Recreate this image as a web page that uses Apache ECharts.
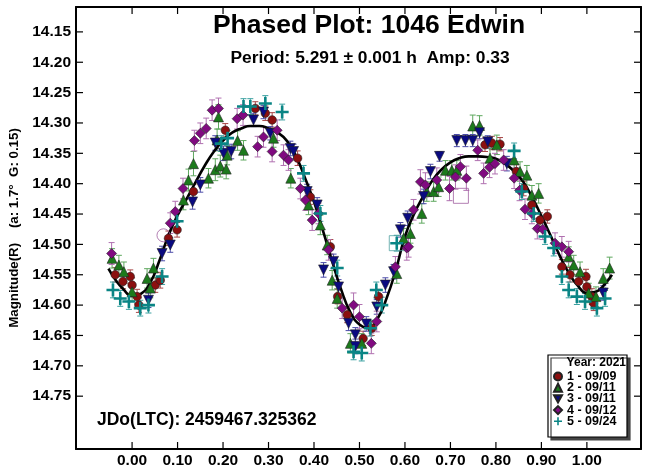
<!DOCTYPE html>
<html>
<head>
<meta charset="utf-8">
<title>Phased Plot: 1046 Edwin</title>
<script src="https://cdn.jsdelivr.net/npm/echarts@6/dist/echarts.min.js"></script>
<style>
  html, body { margin: 0; padding: 0; background: #fff; }
  #chart { width: 645px; height: 469px; }
</style>
</head>
<body>
<div id="chart"></div>
<script>
// tick labels
const xTicks = [0, 0.1, 0.2, 0.3, 0.4, 0.5, 0.6, 0.7, 0.8, 0.9, 1.0];
const yTicks = [14.15, 14.20, 14.25, 14.30, 14.35, 14.40, 14.45, 14.50, 14.55, 14.60, 14.65, 14.70, 14.75];

// sessions: [phase, magnitude, error]
const sess1 = [
  [-0.037, 14.550, 0.012], [-0.020, 14.561, 0.012], [-0.004, 14.553, 0.011], [0.000, 14.567, 0.012],
  [0.011, 14.586, 0.012], [0.015, 14.600, 0.012], [0.051, 14.567, 0.012], [0.062, 14.559, 0.013],
  [0.080, 14.490, 0.012], [0.099, 14.476, 0.012], [0.135, 14.413, 0.012], [0.205, 14.312, 0.011],
  [0.271, 14.276, 0.011], [0.293, 14.284, 0.012], [0.308, 14.295, 0.012], [0.364, 14.358, 0.012],
  [0.392, 14.422, 0.012], [0.436, 14.504, 0.012], [0.452, 14.586, 0.012], [0.473, 14.616, 0.013],
  [0.508, 14.655, 0.012], [0.527, 14.638, 0.012], [0.542, 14.586, 0.012], [0.776, 14.336, 0.011],
  [0.791, 14.333, 0.011], [0.809, 14.335, 0.011], [0.845, 14.380, 0.012], [0.861, 14.408, 0.012],
  [0.879, 14.435, 0.012], [0.897, 14.460, 0.012], [0.913, 14.454, 0.011], [0.945, 14.537, 0.012],
  [0.963, 14.550, 0.012], [0.982, 14.561, 0.012], [0.998, 14.553, 0.012], [1.000, 14.570, 0.012],
  [1.011, 14.586, 0.013], [1.015, 14.597, 0.012]
];
const sess2 = [
  [-0.044, 14.523, 0.016], [-0.029, 14.534, 0.016], [-0.018, 14.545, 0.016], [0.000, 14.578, 0.015],
  [0.033, 14.556, 0.016], [0.040, 14.572, 0.016], [0.047, 14.539, 0.016], [0.113, 14.427, 0.016],
  [0.124, 14.394, 0.018], [0.135, 14.367, 0.020], [0.168, 14.391, 0.016], [0.183, 14.377, 0.018],
  [0.187, 14.328, 0.018], [0.190, 14.290, 0.020], [0.194, 14.371, 0.018], [0.207, 14.376, 0.016],
  [0.209, 14.353, 0.016], [0.232, 14.329, 0.016], [0.245, 14.345, 0.016], [0.311, 14.325, 0.015],
  [0.349, 14.391, 0.016], [0.388, 14.435, 0.016], [0.414, 14.468, 0.016], [0.429, 14.501, 0.016],
  [0.440, 14.559, 0.016], [0.451, 14.589, 0.016], [0.480, 14.663, 0.016], [0.505, 14.663, 0.016],
  [0.582, 14.548, 0.016], [0.597, 14.490, 0.016], [0.612, 14.482, 0.016], [0.637, 14.449, 0.016],
  [0.648, 14.413, 0.016], [0.663, 14.413, 0.016], [0.674, 14.405, 0.016], [0.689, 14.378, 0.016],
  [0.703, 14.378, 0.016], [0.714, 14.378, 0.016], [0.749, 14.305, 0.018], [0.764, 14.304, 0.016],
  [0.787, 14.358, 0.016], [0.802, 14.336, 0.016], [0.840, 14.361, 0.016], [0.853, 14.380, 0.016],
  [0.868, 14.386, 0.016], [0.879, 14.419, 0.016], [0.894, 14.416, 0.016], [0.960, 14.520, 0.016],
  [0.971, 14.534, 0.016], [0.985, 14.545, 0.016], [1.004, 14.580, 0.016], [1.020, 14.586, 0.016],
  [1.036, 14.556, 0.016], [1.050, 14.539, 0.018]
];
const sess3 = [
  [0.036, 14.592, 0.012], [0.066, 14.515, 0.012], [0.084, 14.501, 0.012], [0.133, 14.430, 0.012],
  [0.150, 14.402, 0.012], [0.183, 14.333, 0.012], [0.201, 14.350, 0.012], [0.218, 14.347, 0.012],
  [0.267, 14.295, 0.011], [0.289, 14.282, 0.011], [0.304, 14.317, 0.011], [0.348, 14.342, 0.012],
  [0.355, 14.347, 0.012], [0.385, 14.413, 0.012], [0.407, 14.435, 0.012], [0.421, 14.542, 0.012],
  [0.443, 14.528, 0.012], [0.454, 14.570, 0.012], [0.476, 14.630, 0.012], [0.491, 14.649, 0.012],
  [0.491, 14.668, 0.012], [0.515, 14.631, 0.012], [0.538, 14.603, 0.012], [0.557, 14.567, 0.012],
  [0.575, 14.545, 0.012], [0.590, 14.476, 0.012], [0.606, 14.457, 0.012], [0.641, 14.421, 0.012],
  [0.656, 14.380, 0.012], [0.676, 14.355, 0.008], [0.714, 14.329, 0.010], [0.733, 14.329, 0.010],
  [0.749, 14.329, 0.010], [0.764, 14.316, 0.010], [0.782, 14.331, 0.010], [0.824, 14.367, 0.012],
  [1.036, 14.580, 0.012]
];
const sess4 = [
  [-0.045, 14.515, 0.018], [0.084, 14.465, 0.017], [0.095, 14.446, 0.017], [0.112, 14.408, 0.017],
  [0.137, 14.329, 0.017], [0.150, 14.317, 0.017], [0.163, 14.309, 0.017], [0.176, 14.279, 0.017],
  [0.190, 14.276, 0.017], [0.231, 14.293, 0.017], [0.244, 14.287, 0.017], [0.276, 14.339, 0.017],
  [0.289, 14.323, 0.017], [0.308, 14.347, 0.017], [0.319, 14.312, 0.017], [0.333, 14.353, 0.017],
  [0.344, 14.361, 0.017], [0.370, 14.408, 0.017], [0.381, 14.427, 0.017], [0.396, 14.460, 0.017],
  [0.410, 14.449, 0.017], [0.432, 14.509, 0.017], [0.462, 14.605, 0.017], [0.487, 14.600, 0.020],
  [0.500, 14.619, 0.020], [0.526, 14.663, 0.017], [0.538, 14.627, 0.017], [0.579, 14.537, 0.017],
  [0.604, 14.506, 0.020], [0.608, 14.504, 0.017], [0.619, 14.443, 0.017], [0.634, 14.397, 0.020],
  [0.645, 14.402, 0.020], [0.670, 14.394, 0.020], [0.698, 14.408, 0.020], [0.711, 14.389, 0.020],
  [0.722, 14.372, 0.020], [0.735, 14.391, 0.020], [0.760, 14.345, 0.017], [0.773, 14.383, 0.017],
  [0.786, 14.373, 0.017], [0.798, 14.367, 0.017], [0.817, 14.361, 0.017], [0.840, 14.391, 0.017],
  [0.852, 14.411, 0.017], [0.864, 14.442, 0.017], [0.879, 14.449, 0.017], [0.891, 14.474, 0.017],
  [0.903, 14.475, 0.017], [0.930, 14.498, 0.017], [0.945, 14.504, 0.017], [0.960, 14.512, 0.017]
];
const sess5 = [
  [-0.042, 14.575, 0.013], [-0.026, 14.589, 0.013], [-0.007, 14.594, 0.013], [0.018, 14.605, 0.013],
  [0.036, 14.600, 0.013], [0.066, 14.553, 0.013], [0.099, 14.462, 0.013], [0.196, 14.334, 0.013],
  [0.210, 14.325, 0.013], [0.245, 14.273, 0.013], [0.260, 14.273, 0.013], [0.293, 14.268, 0.013],
  [0.330, 14.282, 0.013], [0.377, 14.383, 0.013], [0.414, 14.449, 0.013], [0.451, 14.539, 0.013],
  [0.487, 14.677, 0.013], [0.505, 14.679, 0.013], [0.524, 14.638, 0.013], [0.537, 14.575, 0.013],
  [0.549, 14.600, 0.013], [0.582, 14.498, 0.013], [0.840, 14.346, 0.013], [0.857, 14.413, 0.013],
  [0.883, 14.449, 0.013], [0.908, 14.487, 0.013], [0.927, 14.506, 0.013], [0.945, 14.553, 0.013],
  [0.960, 14.575, 0.013], [0.978, 14.586, 0.013], [0.996, 14.594, 0.013], [1.022, 14.605, 0.013],
  [1.040, 14.589, 0.013]
];

// points marked with open symbols
const openCircle4 = [[0.069, 14.485]];
const openSquare4 = [[0.723, 14.420]];
const openSquare5 = [[0.582, 14.498]];

// fitted Fourier curve
const fitCurve = [
  [-0.052, 14.540], [-0.035, 14.560], [-0.020, 14.573], [0.000, 14.585], [0.020, 14.581],
  [0.040, 14.563], [0.060, 14.527], [0.080, 14.485], [0.100, 14.452], [0.120, 14.425],
  [0.140, 14.397], [0.160, 14.370], [0.180, 14.347], [0.200, 14.329], [0.220, 14.316],
  [0.240, 14.309], [0.260, 14.305], [0.280, 14.305], [0.300, 14.309], [0.320, 14.316],
  [0.340, 14.329], [0.360, 14.354], [0.380, 14.390], [0.400, 14.430], [0.420, 14.478],
  [0.440, 14.528], [0.460, 14.575], [0.480, 14.612], [0.500, 14.632], [0.520, 14.637],
  [0.540, 14.622], [0.560, 14.588], [0.580, 14.542], [0.600, 14.487], [0.620, 14.450],
  [0.640, 14.421], [0.660, 14.395], [0.680, 14.377], [0.700, 14.365], [0.720, 14.358],
  [0.740, 14.355], [0.760, 14.355], [0.780, 14.356], [0.800, 14.359], [0.820, 14.367],
  [0.840, 14.380], [0.860, 14.397], [0.880, 14.423], [0.900, 14.453], [0.920, 14.485],
  [0.940, 14.518], [0.960, 14.547], [0.980, 14.568], [1.000, 14.580], [1.020, 14.578],
  [1.040, 14.565], [1.055, 14.550]
];

const FONT = 'Arial, "Liberation Sans", sans-serif';
const PLUS = 'path://M4,0H6V4H10V6H6V10H4V6H0V4H4Z';
const DOWN = 'path://M0,0L10,0L5,9Z';

const sessions = [
  { name: '1 - 09/09', data: sess1, color: '#8b0f0f', bar: '#a84848', symbol: 'circle', size: 8.5 },
  { name: '2 - 09/11', data: sess2, color: '#1c7a1c', bar: '#5fa85f', symbol: 'triangle', size: 10 },
  { name: '3 - 09/11', data: sess3, color: '#0a0a80', bar: '#4c4ca8', symbol: DOWN, size: 10 },
  { name: '4 - 09/12', data: sess4, color: '#800a80', bar: '#b070b0', symbol: 'diamond', size: 10 },
  { name: '5 - 09/24', data: sess5, color: '#0a8585', bar: '#3aa0a0', symbol: PLUS, size: 13 }
];

const xMin = -0.1233, xMax = 1.119;
const yMin = 14.109, yMax = 14.837;

function errorSeries(s) {
  return {
    type: 'custom',
    silent: true,
    z: 1,
    data: s.data.map(d => [d[0], d[1] - d[2], d[1] + d[2]]),
    encode: { x: 0, y: [1, 2] },
    renderItem: (params, api) => {
      const x = api.value(0);
      const a = api.coord([x, api.value(1)]);
      const b = api.coord([x, api.value(2)]);
      const w = 3;
      const st = { stroke: s.bar, lineWidth: 1 };
      return {
        type: 'group',
        children: [
          { type: 'line', shape: { x1: a[0], y1: a[1], x2: b[0], y2: b[1] }, style: st },
          { type: 'line', shape: { x1: a[0] - w, y1: a[1], x2: a[0] + w, y2: a[1] }, style: st },
          { type: 'line', shape: { x1: b[0] - w, y1: b[1], x2: b[0] + w, y2: b[1] }, style: st }
        ]
      };
    }
  };
}

function markSeries(s) {
  return {
    name: s.name,
    type: 'scatter',
    z: 3,
    symbol: s.symbol,
    symbolSize: s.size,
    data: s.data.map(d => [d[0], d[1]]),
    itemStyle: {
      color: s.color,
      borderColor: s.symbol === PLUS ? s.color : '#222',
      borderWidth: s.symbol === PLUS ? 0 : 0.6,
      opacity: 1
    }
  };
}

function openSeries(data, symbol, size, color) {
  return {
    type: 'scatter',
    silent: true,
    z: 2,
    symbol: symbol,
    symbolSize: size,
    data: data,
    itemStyle: { color: 'transparent', borderColor: color, borderWidth: 1 }
  };
}

// inward tick marks drawn as thin rect symbols sitting on the frame
const TICK = 7;
function tickSeries(data, size, offset) {
  return {
    type: 'scatter',
    silent: true,
    clip: false,
    z: 8,
    symbol: 'rect',
    symbolSize: size,
    symbolOffset: offset,
    data: data,
    itemStyle: { color: '#000', opacity: 1 }
  };
}

const series = [];
sessions.forEach(s => series.push(errorSeries(s)));
series.push({
  type: 'line',
  data: fitCurve,
  smooth: true,
  showSymbol: false,
  silent: true,
  z: 2,
  lineStyle: { color: '#000', width: 2.6 }
});
sessions.forEach(s => series.push(markSeries(s)));
series.push(openSeries(openCircle4, 'circle', 13, '#a060a0'));
series.push(openSeries(openSquare4, 'rect', 15, '#a060a0'));
series.push(openSeries(openSquare5, 'rect', 15, '#50a0a0'));
// top and bottom edges (y axis is inverted: yMin is the top)
series.push(tickSeries(xTicks.map(v => [v, yMin]), [1.2, TICK], [0, TICK / 2]));
series.push(tickSeries(xTicks.map(v => [v, yMax]), [1.2, TICK], [0, -TICK / 2]));
// left and right edges
series.push(tickSeries(yTicks.map(v => [xMin, v]), [TICK, 1.2], [TICK / 2, 0]));
series.push(tickSeries(yTicks.map(v => [xMax, v]), [TICK, 1.2], [-TICK / 2, 0]));

const chart = echarts.init(document.getElementById('chart'), null, { renderer: 'canvas' });

const axisLabelStyle = { color: '#000', fontFamily: FONT, fontWeight: 'bold', fontSize: 15.5 };
const frameLine = { show: true, onZero: false, lineStyle: { color: '#000', width: 2 } };

chart.setOption({
  animation: false,
  backgroundColor: '#fff',
  grid: { left: 76, top: 7, right: 4, bottom: 20, show: false },
  xAxis: [
    {
      type: 'value', min: xMin, max: xMax, position: 'bottom',
      axisLine: frameLine,
      axisTick: { show: false },
      axisLabel: Object.assign({ customValues: xTicks, margin: 4, formatter: v => v.toFixed(2) }, axisLabelStyle),
      splitLine: { show: false }
    },
    {
      type: 'value', min: xMin, max: xMax, position: 'top',
      axisLine: frameLine,
      axisTick: { show: false },
      axisLabel: { show: false },
      splitLine: { show: false }
    }
  ],
  yAxis: [
    {
      type: 'value', min: yMin, max: yMax, inverse: true, position: 'left',
      name: 'Magnitude(R)    (a: 1.7°  G: 0.15)',
      nameLocation: 'middle', nameGap: 53, nameRotate: 90,
      nameTextStyle: { color: '#000', fontFamily: FONT, fontWeight: 'bold', fontSize: 13.3 },
      axisLine: frameLine,
      axisTick: { show: false },
      axisLabel: Object.assign({ customValues: yTicks, margin: 5, formatter: v => v.toFixed(2) }, axisLabelStyle),
      splitLine: { show: false }
    },
    {
      type: 'value', min: yMin, max: yMax, inverse: true, position: 'right',
      axisLine: frameLine,
      axisTick: { show: false },
      axisLabel: { show: false },
      splitLine: { show: false }
    }
  ],
  legend: {
    show: true,
    data: sessions.map(s => s.name),
    orient: 'vertical',
    left: 553, top: 370,
    itemWidth: 8, itemHeight: 8, itemGap: -1.8,
    padding: 0,
    selectedMode: false,
    z: 10,
    textStyle: { color: '#000', fontFamily: FONT, fontWeight: 'bold', fontSize: 12.5 }
  },
  graphic: [
    {
      type: 'text', x: 369, y: 26, z: 10,
      style: { text: 'Phased Plot: 1046 Edwin', fill: '#000', font: 'bold 26.5px ' + FONT, align: 'center', verticalAlign: 'middle' }
    },
    {
      type: 'text', x: 370, y: 58, z: 10,
      style: { text: 'Period: 5.291 \u00b1 0.001 h  Amp: 0.33', fill: '#000', font: 'bold 17.4px ' + FONT, align: 'center', verticalAlign: 'middle' }
    },
    {
      type: 'text', x: 97, y: 420, z: 10,
      style: { text: 'JDo(LTC): 2459467.325362', fill: '#000', font: 'bold 17.5px ' + FONT, align: 'left', verticalAlign: 'middle' }
    },
    {
      type: 'rect', z: 9,
      shape: { x: 548, y: 355, width: 79, height: 82 },
      style: { fill: '#fff', stroke: '#000', lineWidth: 1.2, shadowColor: '#444', shadowOffsetX: 3, shadowOffsetY: 3, shadowBlur: 0 }
    },
    {
      type: 'text', x: 626, y: 363, z: 10,
      style: { text: 'Year: 2021', fill: '#000', font: 'bold 12px ' + FONT, align: 'right', verticalAlign: 'middle' }
    }
  ],
  series: series
});
</script>
</body>
</html>
